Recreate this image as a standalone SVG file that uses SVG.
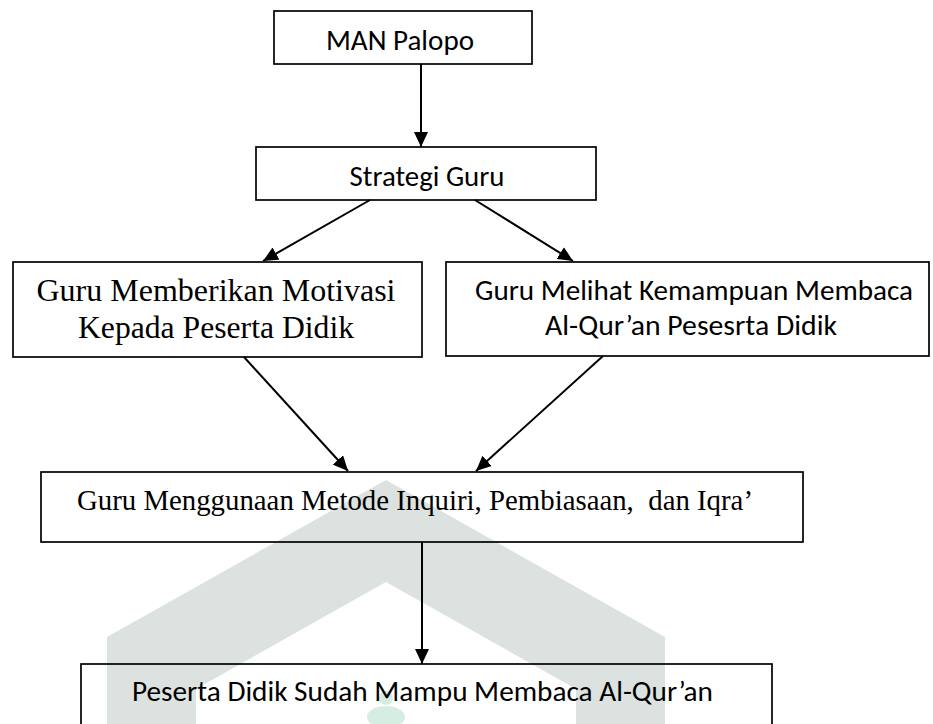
<svg xmlns="http://www.w3.org/2000/svg" width="933" height="724" viewBox="0 0 933 724">
<style>
.box{fill:none;stroke:#000;stroke-width:1.7}
.cal{font-family:Carlito,Lato,"Liberation Sans",sans-serif;font-size:29px;fill:#000;text-anchor:middle}
.tnr{font-family:"Liberation Serif","Times New Roman",serif;fill:#000;text-anchor:middle}
.con{stroke:#000;stroke-width:2;fill:none;marker-end:url(#ah)}
.wm{fill:#dce2df}
.logo{fill:#d6eee1}
</style>
<defs>
<marker id="ah" markerUnits="userSpaceOnUse" markerWidth="16" markerHeight="14" refX="15" refY="7" orient="auto">
<path d="M0,0 L15,7 L0,14 Z" fill="#000"/>
</marker>
</defs>
<rect width="933" height="724" fill="#fff"/>
<g id="watermark">
<path class="wm" d="M386,480 L665,637 L665,724 L576,724 L576,689 L386,582 L196,689 L196,724 L107,724 L107,637 Z"/>
<circle class="logo" cx="386" cy="698" r="7"/>
<ellipse class="logo" cx="386" cy="717" rx="19" ry="11"/>
</g>
<g id="connectors">
<line class="con" x1="421" y1="64" x2="421" y2="147"/>
<line class="con" x1="370" y1="200" x2="263" y2="261"/>
<line class="con" x1="475" y1="200" x2="573" y2="261"/>
<line class="con" x1="244" y1="357" x2="348" y2="471"/>
<line class="con" x1="603" y1="356" x2="476" y2="471"/>
<line class="con" x1="422" y1="542" x2="422" y2="664"/>
</g>
<g id="n1">
<rect class="box" x="274" y="11" width="258" height="53"/>
<text class="cal" x="400" y="50" textLength="148" lengthAdjust="spacingAndGlyphs">MAN Palopo</text>
</g>
<g id="n2">
<rect class="box" x="256" y="147" width="340" height="53"/>
<text class="cal" x="427" y="186" textLength="155" lengthAdjust="spacingAndGlyphs">Strategi Guru</text>
</g>
<g id="n3">
<rect class="box" x="13" y="262" width="409" height="95"/>
<text class="tnr" x="216" y="301" font-size="32" textLength="359" lengthAdjust="spacingAndGlyphs">Guru Memberikan Motivasi</text>
<text class="tnr" x="216" y="338" font-size="32" textLength="276" lengthAdjust="spacingAndGlyphs">Kepada Peserta Didik</text>
</g>
<g id="n4">
<rect class="box" x="446" y="262" width="483" height="94"/>
<text class="cal" x="694" y="300" textLength="438" lengthAdjust="spacingAndGlyphs">Guru Melihat Kemampuan Membaca</text>
<text class="cal" x="691" y="335" textLength="292" lengthAdjust="spacingAndGlyphs">Al-Qur’an Pesesrta Didik</text>
</g>
<g id="n5">
<rect class="box" x="41" y="472" width="762" height="70"/>
<text class="tnr" x="415" y="510" font-size="30" textLength="676" lengthAdjust="spacingAndGlyphs" style="white-space:pre">Guru Menggunaan Metode Inquiri, Pembiasaan,  dan Iqra’</text>
</g>
<g id="n6">
<rect class="box" x="81" y="664" width="691" height="80"/>
<text class="cal" x="422.5" y="701" textLength="581" lengthAdjust="spacingAndGlyphs">Peserta Didik Sudah Mampu Membaca Al-Qur’an</text>
</g>
</svg>
